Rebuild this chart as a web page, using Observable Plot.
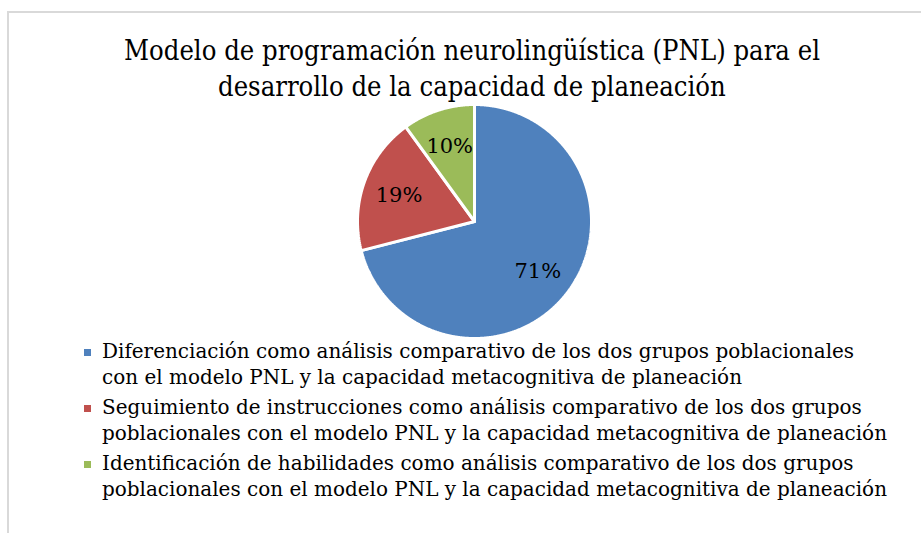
<!DOCTYPE html>
<html>
<head>
<meta charset="utf-8">
<script src="https://cdn.jsdelivr.net/npm/d3@7"></script>
<script src="https://cdn.jsdelivr.net/npm/@observablehq/plot@0.6"></script>
<style>
  html, body { margin: 0; padding: 0; background: #fff; width: 921px; height: 533px; overflow: hidden; }
  #frame { position: absolute; left: 7px; top: 11px; width: 1000px; height: 600px;
           border-left: 2px solid #d9d9d9; border-top: 2px solid #d9d9d9; }
  .line { position: absolute; white-space: nowrap; font-family: "DejaVu Serif", serif; color: #000;
          transform-origin: 0 0; }
  .title { font-size: 27.5px; line-height: 36px; }
  .leg { font-size: 19.5px; line-height: 26px; }
  .mk { position: absolute; width: 7px; height: 7px; }
  #pie { position: absolute; left: 354px; top: 101px; }
</style>
</head>
<body>
<div id="frame"></div>
<div id="pie"></div>
<script>
// ---- data ----
const categories = [
  "Diferenciación como análisis comparativo de los dos grupos poblacionales con el modelo PNL y la capacidad metacognitiva de planeación",
  "Seguimiento de instrucciones como análisis comparativo de los dos grupos poblacionales con el modelo PNL y la capacidad metacognitiva de planeación",
  "Identificación de habilidades como análisis comparativo de los dos grupos poblacionales con el modelo PNL y la capacidad metacognitiva de planeación"
];
const values = [71, 19, 10];
const valueLabels = ["71%", "19%", "10%"];
const colors = ["#4F81BD", "#C0504D", "#9BBB59"];
const titleLines = [
  "Modelo de programación neurolingüística (PNL) para el",
  "desarrollo de la capacidad de planeación"
];
const legendLines = [
  ["Diferenciación como análisis comparativo de los dos grupos poblacionales",
   "con el modelo PNL y la capacidad metacognitiva de planeación"],
  ["Seguimiento de instrucciones como análisis comparativo de los dos grupos",
   "poblacionales con el modelo PNL y la capacidad metacognitiva de planeación"],
  ["Identificación de habilidades como análisis comparativo de los dos grupos",
   "poblacionales con el modelo PNL y la capacidad metacognitiva de planeación"]
];

// ---- pie geometry from data ----
const arcs = d3.pie().sort(null)(values);
const pts = [];
const labels = [];
arcs.forEach((s, i) => {
  const k = categories[i];
  pts.push({k, x: 0, y: 0});
  const n = Math.ceil((s.endAngle - s.startAngle) / 0.005);
  for (let j = 0; j <= n; j++) {
    const a = s.startAngle + (s.endAngle - s.startAngle) * j / n;
    pts.push({k, x: Math.sin(a), y: Math.cos(a)});
  }
  pts.push({k, x: 0, y: 0});
  const m = (s.startAngle + s.endAngle) / 2;
  labels.push({x: 0.685 * Math.sin(m), y: 0.685 * Math.cos(m), text: valueLabels[i]});
});

const R = 117, S = 240;
const chart = Plot.plot({
  width: S, height: S, margin: 0,
  x: {domain: [-S / 2 / R, S / 2 / R], axis: null},
  y: {domain: [-S / 2 / R, S / 2 / R], axis: null},
  color: {domain: categories, range: colors},
  style: {background: "transparent", overflow: "visible"},
  marks: [
    Plot.line(pts, {x: "x", y: "y", z: "k", fill: "k", stroke: "white", strokeWidth: 3, strokeLinejoin: "miter"}),
    Plot.text(labels, {x: "x", y: "y", text: "text", fill: "black", fontSize: 21,
                       fontFamily: "DejaVu Serif", dy: 1})
  ]
});
document.getElementById("pie").appendChild(chart);

// ---- title & legend (HTML) ----
function addLine(txt, cls, left, top) {
  const d = document.createElement("div");
  d.className = "line " + cls;
  d.textContent = txt;
  d.style.left = left + "px";
  d.style.top = top + "px";
  document.body.appendChild(d);
  return d;
}
const tEls = titleLines.map((t, i) => addLine(t, "title", 0, 31.5 + i * 36));
const tScale = 696 / tEls[0].getBoundingClientRect().width;
tEls.forEach(el => {
  const w = el.getBoundingClientRect().width * tScale;
  el.style.left = (472 - w / 2) + "px";
  el.style.transform = `scaleX(${tScale})`;
});

const legBase = [[359, 385], [415, 441], [471, 497]];
const lEls = [];
legendLines.forEach((pair, i) => {
  pair.forEach((t, j) => lEls.push(addLine(t, "leg", 102, legBase[i][j] - 19.75)));
  const mk = document.createElement("div");
  mk.className = "mk";
  mk.style.background = colors[i];
  mk.style.left = "84px";
  mk.style.top = (legBase[i][0] - 10.5) + "px";
  document.body.appendChild(mk);
});
const lScale = 785 / lEls[3].getBoundingClientRect().width;
lEls.forEach(el => el.style.transform = `scaleX(${lScale})`);
</script>
</body>
</html>
